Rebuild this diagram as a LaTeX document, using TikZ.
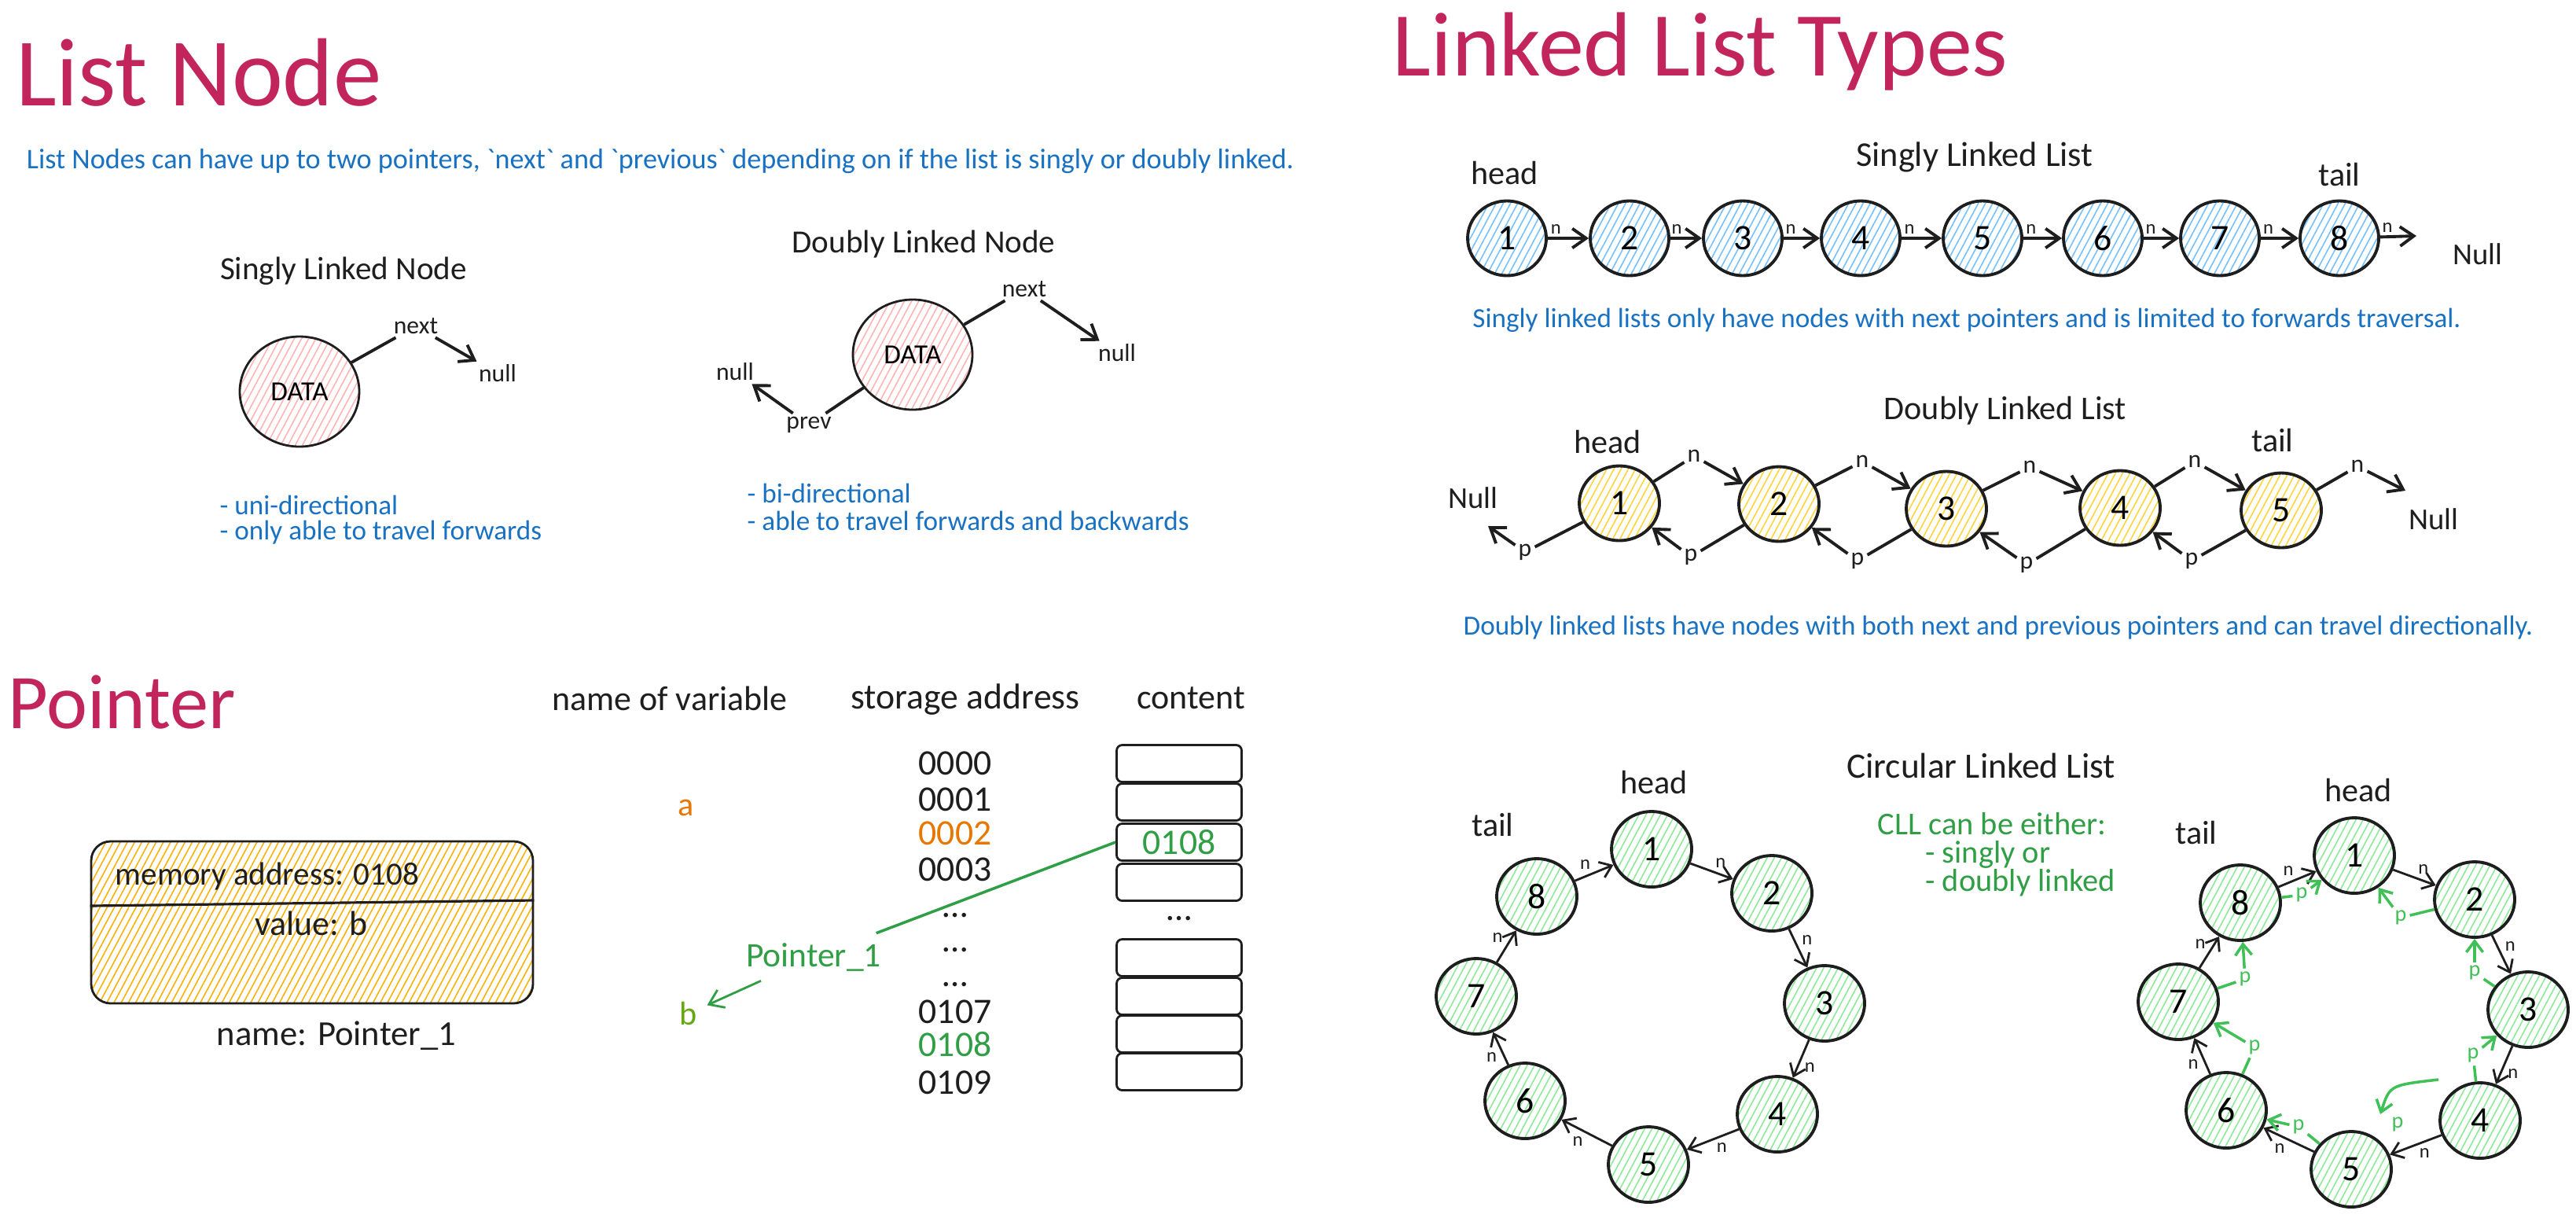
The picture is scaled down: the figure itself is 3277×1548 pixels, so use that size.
\documentclass[tikz,border=0pt]{standalone}
\usepackage{fontspec}
\setmainfont{Carlito}
\usetikzlibrary{positioning,shapes.geometric,arrows.meta,patterns.meta}

\definecolor{ink}{HTML}{1E1E1E}
\definecolor{titlered}{HTML}{C2255C}
\definecolor{noteblue}{HTML}{1971C2}
\definecolor{notegreen}{HTML}{2F9E44}
\definecolor{prevgreen}{HTML}{40C057}
\definecolor{addrorange}{HTML}{E67700}
\definecolor{olive}{HTML}{66A80F}
\definecolor{hatchblue}{HTML}{74C0FC}
\definecolor{hatchyellow}{HTML}{FFD43B}
\definecolor{hatchgreen}{HTML}{8CE99A}
\definecolor{hatchpink}{HTML}{FFB3B3}
\definecolor{hatchgold}{HTML}{FAB005}

\newcommand{\setfs}[1]{\fontsize{#1}{#1}\selectfont}

\begin{document}
\begin{tikzpicture}[x=0.1mm, y=-0.1mm,
  >={Straight Barb[length=5pt,width=7pt]},
  title/.style={text=titlered, font=\setfs{33}},
  note/.style={text=noteblue, font=\setfs{10}},
  caption/.style={text=ink, font=\setfs{12}},
  ptr/.style={text=ink, font=\setfs{7}, inner sep=1pt},
  hatch/.style={pattern={Lines[angle=62,distance=2.3pt,line width=0.45pt]}, pattern color=#1},
  datanode/.style={ellipse, draw=ink, line width=0.8pt, hatch=hatchpink, minimum width=15.2mm, minimum height=14mm, font=\setfs{10}},
  slnode/.style={ellipse, draw=ink, line width=1.1pt, hatch=hatchblue, minimum width=10mm, minimum height=9.5mm, font=\setfs{13}},
  dlnode/.style={ellipse, draw=ink, line width=1.1pt, hatch=hatchyellow, minimum width=10.2mm, minimum height=9.5mm, font=\setfs{13}},
  clnode/.style={ellipse, draw=ink, line width=1.1pt, hatch=hatchgreen, minimum width=10.2mm, minimum height=9.6mm, font=\setfs{13}},
  cell/.style={draw=ink, line width=0.8pt, rounded corners=2pt, minimum width=15.9mm, minimum height=4.7mm},
  link/.style={draw=ink, line width=1.1pt},
  thinlink/.style={draw=ink, line width=0.8pt, >={Straight Barb[length=4pt,width=6pt]}},
  plink/.style={draw=prevgreen, line width=1pt, >={Straight Barb[length=4pt,width=6pt]}},
]
\useasboundingbox (0,0) rectangle (3277,1548);

% list node
\node[title, font=\setfs{35}] (listnodetitle) at (253,92) {List Node};
\node[note, font=\setfs{10.3}] (listnodeinfo) at (840,205) {List Nodes can have up to two pointers, \textasciigrave next\textasciigrave{} and \textasciigrave previous\textasciigrave{} depending on if the list is singly or doubly linked.};

\node[caption, font=\setfs{11.7}] (singlytitle) at (437,345) {Singly Linked Node};
\node[datanode] (sdata) at (381,498) {DATA};
\node[ptr, font=\setfs{9}] (snext) at (529,415) {next};
\node[ptr, font=\setfs{9}] (snull) at (633,475) {null};
\draw[link] (sdata) -- (snext);
\draw[link,->] (snext) -- (snull);
\node[note, anchor=west, inner sep=0pt] (sfeat1) at (279,642) {- uni-directional};
\node[note, anchor=west, inner sep=0pt] (sfeat2) at (279,677) {- only able to travel forwards};

\node[caption, font=\setfs{11.7}] (doublytitle) at (1175,311) {Doubly Linked Node};
\node[datanode] (ddata) at (1161,451) {DATA};
\node[ptr, font=\setfs{9}] (dnext) at (1303,368) {next};
\node[ptr, font=\setfs{9}] (dnullr) at (1421,449) {null};
\node[ptr, font=\setfs{9}] (dprev) at (1029,540) {prev};
\node[ptr, font=\setfs{9}] (dnulll) at (935,473) {null};
\draw[link] (ddata) -- (dnext);
\draw[link,->] (dnext) -- (dnullr);
\draw[link] (ddata) -- (dprev);
\draw[link,->] (dprev) -- (dnulll);
\node[note, anchor=west, inner sep=0pt] (dfeat1) at (950,627) {- bi-directional};
\node[note, anchor=west, inner sep=0pt] (dfeat2) at (950,662) {- able to travel forwards and backwards};

% pointer
\node[title, font=\setfs{28}] (pointertitle) at (155,893) {Pointer};
\node[caption, font=\setfs{12.5}] (varhead) at (852,888) {name of variable};
\node[caption, font=\setfs{13}] (addrhead) at (1228,890) {storage address};
\node[caption, font=\setfs{12.5}] (conthead) at (1515,888) {content};

\foreach \i/\y/\t in {0/971/0000, 1/1017/0001, 3/1106/0003, 4/1164/{\dots}, 5/1208/{\dots}, 6/1252/{\dots}, 7/1287/0107, 9/1377/0109}
  \node[font=\setfs{13}, text=ink] (addr\i) at (1215,\y) {\t};
\node[font=\setfs{13}, text=addrorange] (addr2) at (1215,1060) {0002};
\node[font=\setfs{13}, text=notegreen] (addr8) at (1215,1328) {0108};

\foreach \i/\y in {1/971, 2/1020, 3/1071, 4/1122, 5/1218, 6/1267, 7/1315, 8/1363}
  \node[cell] (cell\i) at (1500,\y) {};
\node[font=\setfs{13}, text=notegreen] (cellval) at (cell3) {0108};
\node[font=\setfs{13}, text=ink] (celldots) at (1500,1168) {\dots};

\node[font=\setfs{12}, text=addrorange] (avar) at (873,1027) {a};
\node[font=\setfs{12}, text=olive] (bvar) at (876,1289) {b};
\node[font=\setfs{12.4}, text=notegreen] (ptrlabel) at (1035,1217) {Pointer\_1};
\draw[notegreen, line width=1pt] (cell3.west) -- (ptrlabel);
\draw[notegreen, line width=0.8pt, ->] (ptrlabel) -- (bvar);

\node[draw=ink, line width=0.8pt, rounded corners=7pt, hatch=hatchgold, minimum width=56.2mm, minimum height=20.6mm] (ptrbox) at (397,1173) {};
\draw[ink, line width=0.9pt] ([yshift=2.1mm]ptrbox.west) -- ([yshift=2.8mm]ptrbox.east);
\node[font=\setfs{11.7}, text=ink] (ptraddr) at (340,1115) {memory address: 0108};
\node[font=\setfs{12.5}, text=ink] (ptrvalue) at (396,1174) {value: b};
\node[font=\setfs{12.7}, text=ink] (ptrname) at (428,1317) {name: Pointer\_1};

% linked list types
\node[title] (typestitle) at (2163,66) {Linked List Types};

% singly linked list
\node[caption, font=\setfs{12.6}] (slltitle) at (2512,200) {Singly Linked List};
\node[caption] (sllhead) at (1914,220) {head};
\node[caption] (slltail) at (2976,222) {tail};
\foreach \i/\x in {1/1917, 2/2073, 3/2217, 4/2367, 5/2522, 6/2675, 7/2824, 8/2976}
  \node[slnode] (s\i) at (\x,303) {\i};
\coordinate (sllend) at (3074,300);
\foreach \i/\j in {1/2, 2/3, 3/4, 4/5, 5/6, 6/7, 7/8}
  \draw[link,->] (s\i) -- node[ptr, pos=0.2, above] (sn\i) {n} (s\j);
\draw[link,->] (s8) -- node[ptr, pos=0.2, above] (sn8) {n} (sllend);
\node[caption, font=\setfs{11}] (sllnull) at (3152,323) {Null};
\node[note] (sllinfo) at (2502,407) {Singly linked lists only have nodes with next pointers and is limited to forwards traversal.};

% doubly linked list
\node[caption] (dlltitle) at (2551,522) {Doubly Linked List};
\node[caption] (dllhead) at (2045,562) {head};
\node[caption] (dlltail) at (2891,560) {tail};
\node[caption, font=\setfs{11}] (dllnulll) at (1874,633) {Null};
\node[caption, font=\setfs{11}] (dllnullr) at (3096,660) {Null};
\foreach \i/\x/\y in {1/2060/640, 2/2263/641, 3/2476/647, 4/2697/646, 5/2902/649}
  \node[dlnode] (d\i) at (\x,\y) {\i};
\foreach \i/\x/\y in {1/2155/580, 2/2369/587, 3/2582/594, 4/2792/587, 5/2999/593}
  \node[ptr, font=\setfs{9}] (dn\i) at (\x,\y) {n};
\foreach \i/\x/\y in {1/1940/702, 2/2151/708, 3/2363/713, 4/2578/718, 5/2788/713}
  \node[ptr, font=\setfs{9}] (dp\i) at (\x,\y) {p};
\coordinate (dnend) at (3060,624);
\coordinate (dpend) at (1893,669);
\foreach \i/\j in {1/2, 2/3, 3/4, 4/5} {
  \draw[link] (d\i) -- (dn\i);
  \draw[link,->] (dn\i) -- (d\j);
  \draw[link] (d\j) -- (dp\j);
  \draw[link,->] (dp\j) -- (d\i);
}
\draw[link] (d5) -- (dn5);
\draw[link,->] (dn5) -- (dnend);
\draw[link] (d1) -- (dp1);
\draw[link,->] (dp1) -- (dpend);
\node[note] (dllinfo) at (2542,798) {Doubly linked lists have nodes with both next and previous pointers and can travel directionally.};

% circular linked list
\node[caption, font=\setfs{12.9}] (clltitle) at (2520,974) {Circular Linked List};
\node[text=notegreen, font=\fontsize{11.5}{10.2}\selectfont, align=left, anchor=west, inner sep=0pt] (cllinfo) at (2388,1087) {CLL can be either:\\\hspace*{1.5em}- singly or\\\hspace*{1.5em}- doubly linked};

\node[caption] (cllhead) at (2104,995) {head};
\node[caption] (clltail) at (1899,1049) {tail};
\foreach \i/\x/\y in {1/2101/1080, 2/2254/1136, 3/2321/1276, 4/2261/1417, 5/2097/1481, 6/1940/1400, 7/1878/1267, 8/1955/1140}
  \node[clnode] (c\i) at (\x,\y) {\i};
\foreach \i/\j in {1/2, 2/3, 3/4, 4/5, 5/6, 6/7, 7/8, 8/1}
  \draw[thinlink,->] (c\i) -- node[ptr, auto] (cn\i) {n} (c\j);

\node[caption] (rhead) at (3000,1005) {head};
\node[caption] (rtail) at (2794,1059) {tail};
\foreach \i/\x/\y in {1/2995/1088, 2/3148/1144, 3/3216/1284, 4/3155/1425, 5/2991/1487, 6/2832/1412, 7/2771/1274, 8/2850/1148}
  \node[clnode] (r\i) at (\x,\y) {\i};
\foreach \i/\j in {1/2, 2/3, 3/4, 4/5, 5/6, 6/7, 7/8, 8/1}
  \draw[thinlink,->] (r\i) -- node[ptr, auto] (rn\i) {n} (r\j);

% green prev pointers
\foreach \a/\b/\x/\y in {8/1/2928/1138, 2/1/3054/1167, 3/2/3148/1237, 4/3/3146/1342, 5/6/2924/1433, 6/7/2868/1332, 7/8/2856/1245} {
  \node[ptr, font=\setfs{8}, text=prevgreen] (rp\a\b) at (\x,\y) {p};
  \draw[plink] (r\a) -- (rp\a\b);
  \draw[plink,->] (rp\a\b) -- (r\b);
}
\coordinate (rcurvestart) at (3102,1373);
\coordinate (rcurveend) at (3028,1417);
\node[ptr, font=\setfs{8}, text=prevgreen] (rp45) at (3050,1430) {p};
\draw[plink,->] (rcurvestart) .. controls (3040,1380) .. (rcurveend);
\end{tikzpicture}
\end{document}
